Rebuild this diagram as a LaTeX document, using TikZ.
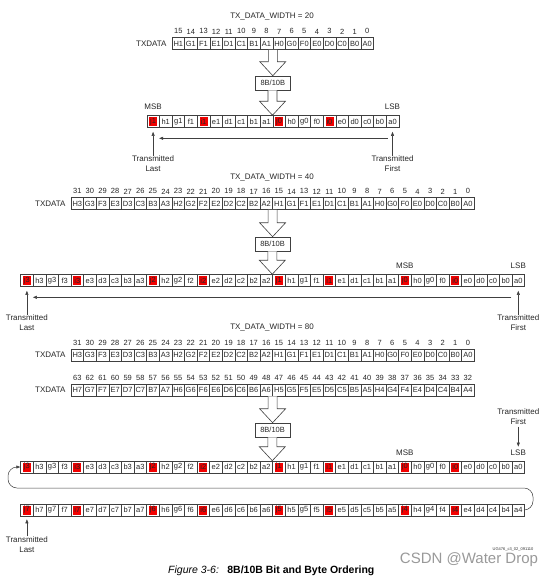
\documentclass[tikz,border=0pt]{standalone}
\usepackage{fontspec}
\setmainfont{Liberation Sans}
\usepackage{tikz}
\usetikzlibrary{positioning,arrows.meta,calc}

\tikzset{
  bit/.style={draw=black!75,line width=0.6pt,minimum width=12.6pt,minimum height=12pt,inner sep=0pt,text=black!85,font=\fontsize{7.5}{8}\selectfont},
  redtag/.style={fill=red!95!black,minimum width=8pt,minimum height=9pt,inner sep=0pt,text=black!85,font=\fontsize{7.5}{8}\selectfont},
  num/.style={inner sep=0pt,text=black!85,font=\fontsize{7.5}{8}\selectfont},
  lbl/.style={inner sep=0pt,text=black!85,font=\fontsize{8}{10}\selectfont},
  txt/.style={lbl,align=center},
  codec/.style={draw=black!75,line width=0.6pt,minimum width=35pt,minimum height=14pt,inner sep=0pt,text=black!85,font=\fontsize{7.5}{8}\selectfont},
  fat/.style={draw=black!75,line width=0.6pt,fill=white},
  conn/.style={draw=black!75,line width=0.5pt,-{Triangle[length=4pt,width=3pt]}},
}

% one row of the parallel word, bytes given highest first
\newcommand\wordrow[4]{%
  \foreach \byte [count=\grp from 0] in {#4} {
    \foreach \ch [count=\pos from 0] in {H,G,F,E,D,C,B,A} {
      \pgfmathtruncatemacro\bitno{8*\byte+7-\pos}
      \node[bit] (#1\ch\byte) at ({#2+(8*\grp+\pos+0.5)*12.6},#3) {\ch\byte};
      \node[num,above=3pt of #1\ch\byte] {\bitno};
    }
  }}

% one row of 10-bit characters, j and i bits marked red
\newcommand\coderow[4]{%
  \foreach \byte [count=\grp from 0] in {#4} {
    \foreach \ch/\hot [count=\pos from 0] in {j/1,h/0,g/0,f/0,i/1,e/0,d/0,c/0,b/0,a/0} {
      \node[bit] (#1\ch\byte) at ({#2+(10*\grp+\pos+0.5)*12.6},#3) {\ch\byte};
      \ifnum\hot=1 \node[redtag] at (#1\ch\byte) {\ch\byte};\fi
    }
  }}

% hollow block arrow, #2 is the tip
\newcommand\fatarrow[2]{%
  \draw[fat] ($(#1 -| #2)+(-4.5pt,0pt)$) -- ($(#2)+(-4.5pt,14pt)$) -- ($(#2)+(-13pt,14pt)$) -- (#2)
    -- ($(#2)+(13pt,14pt)$) -- ($(#2)+(4.5pt,14pt)$) -- ($(#1 -| #2)+(4.5pt,0pt)$);}

\begin{document}
\begin{tikzpicture}[x=1pt,y=-1pt]
\useasboundingbox (0,0) rectangle (554,576);

% 20-bit
\node[lbl] (wd20) at (272,17) {TX\_DATA\_WIDTH = 20};
\wordrow{w1}{172}{43.5}{1,0}
\node[lbl,left=5pt of w1H1] (tx1) {TXDATA};
\node[codec] (enc1) at (272.8,83) {8B/10B};
\coderow{c1}{146.8}{121.5}{1,0}
\fatarrow{w1A1.south east}{enc1.north}
\fatarrow{enc1.south}{c1j0.north west}
\node[lbl,above=5pt of c1j1] (msb1) {MSB};
\node[lbl,above=5pt of c1a0] (lsb1) {LSB};
\node[txt,below=28pt of c1j1] (last1) {Transmitted\\Last};
\node[txt,below=28pt of c1a0] (first1) {Transmitted\\First};
\draw[conn,shorten >=4pt] (last1.north) -- (c1j1.south);
\draw[conn,shorten >=4pt] (first1.north) -- (c1a0.south);
\draw[conn] ([xshift=-5pt,yshift=-10.5pt]c1a0.south) -- ([xshift=6pt,yshift=-10.5pt]c1j1.south);

% 40-bit
\node[lbl] (wd40) at (272,177) {TX\_DATA\_WIDTH = 40};
\wordrow{w2}{71}{203.5}{3,2,1,0}
\node[lbl,left=5pt of w2H3] (tx2) {TXDATA};
\node[codec] (enc2) at (272.6,244) {8B/10B};
\coderow{c2}{20.6}{280.5}{3,2,1,0}
\fatarrow{w2A2.south east}{enc2.north}
\fatarrow{enc2.south}{c2j1.north west}
\node[lbl,above=5pt of c2j0] (msb2) {MSB};
\node[lbl,above=5pt of c2a0] (lsb2) {LSB};
\node[txt,below=28pt of c2j3] (last2) {Transmitted\\Last};
\node[txt,below=28pt of c2a0] (first2) {Transmitted\\First};
\draw[conn,shorten >=4pt] (last2.north) -- (c2j3.south);
\draw[conn,shorten >=4pt] (first2.north) -- (c2a0.south);
\draw[conn] ([xshift=-7pt,yshift=-10.5pt]c2a0.south) -- ([xshift=6pt,yshift=-10.5pt]c2j3.south);

% 80-bit
\node[lbl] (wd80) at (272,327) {TX\_DATA\_WIDTH = 80};
\wordrow{w3a}{71}{355}{3,2,1,0}
\wordrow{w3b}{71}{390}{7,6,5,4}
\node[lbl,left=5pt of w3aH3] (tx3a) {TXDATA};
\node[lbl,left=5pt of w3bH7] (tx3b) {TXDATA};
\node[codec] (enc3) at (272.6,430) {8B/10B};
\coderow{c3a}{20.6}{467}{3,2,1,0}
\coderow{c3b}{20.6}{510}{7,6,5,4}
\fatarrow{w3bA6.south east}{enc3.north}
\fatarrow{enc3.south}{c3aj1.north west}
\node[lbl,above=5pt of c3aj0] (msb3) {MSB};
\node[lbl,above=5pt of c3aa0] (lsb3) {LSB};
\node[txt,above=25pt of lsb3] (first3) {Transmitted\\First};
\draw[conn,shorten <=2pt,shorten >=3pt] (first3.south) -- (lsb3.north);
\coordinate (turnR) at (533,488);
\coordinate (turnL) at (8,488);
\draw[conn,rounded corners=9pt] (c3ba4.east) -| (turnR) -- (turnL) |- (c3aj3.west);
\node[txt,below=20pt of c3bj7] (last3) {Transmitted\\Last};
\draw[conn,shorten >=3pt] (last3.north) -- (c3bj7.south);

% caption
\node[inner sep=0pt,font=\fontsize{4}{5}\selectfont,text=black!80] (ugid) at (513,549) {UG476\_c3\_02\_091110};
\node[inner sep=0pt,font=\fontsize{15}{17}\selectfont,text=black!40] (wm) at (469,560) {CSDN @Water Drop};
\node[anchor=base west,inner sep=0pt,font=\fontsize{10.5}{12}\selectfont\itshape] (figno) at (168,573) {Figure 3-6:};
\node[base right=8pt of figno,inner sep=0pt,font=\fontsize{10.5}{12}\selectfont\bfseries] (figtitle) {8B/10B Bit and Byte Ordering};
\end{tikzpicture}
\end{document}
